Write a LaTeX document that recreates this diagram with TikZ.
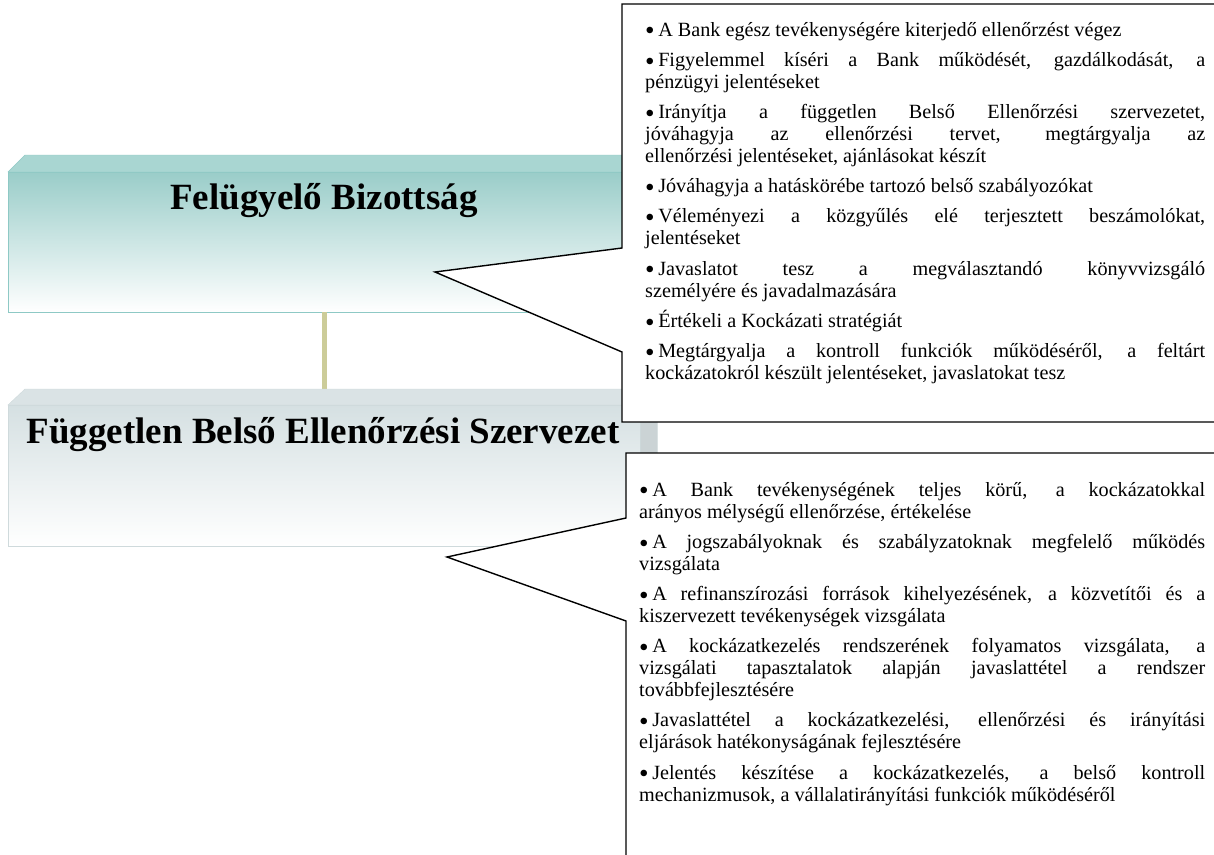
\documentclass[tikz,border=0pt]{standalone}
\usepackage{fontspec}
\setmainfont{Liberation Serif}
\usetikzlibrary{calc}
\definecolor{fbtop}{HTML}{9ACDC9}
\definecolor{fbmid}{HTML}{DDF0EE}
\definecolor{fbbevel}{HTML}{A9D6D2}
\definecolor{fbborder}{HTML}{8EC9C5}
\definecolor{fetop}{HTML}{D5E0E2}
\definecolor{femid}{HTML}{EEF3F4}
\definecolor{febevel}{HTML}{DAE3E5}
\definecolor{feborder}{HTML}{CFDADC}
\definecolor{feside}{HTML}{CBD3D5}
\definecolor{conncol}{HTML}{CCCC99}
\newcommand{\jline}[1]{\makebox[\linewidth][s]{#1}\par}
\newcommand{\nline}[1]{\mbox{#1}\par}
\newcommand{\bul}{\raisebox{-3.8pt}{\scalebox{1.35}{\textbullet}}\hspace{3.5pt}}
\newcommand{\itemgap}{\vspace{8.2pt}}
\tikzset{
  facebox/.style={inner sep=0, minimum width=632pt, minimum height=140pt, anchor=north west},
  titletext/.style={inner sep=0, anchor=base, font=\fontsize{37}{40}\selectfont\bfseries},
  callout/.style={draw=black, fill=white, line width=1.4pt, line join=miter},
  bodytext/.style={inner sep=0, anchor=base west, font=\fontsize{20.2}{22}\selectfont},
  conn/.style={draw=conncol, line width=5pt}
}
\begin{document}
\begin{tikzpicture}[x=1pt,y=-1pt]
\useasboundingbox (0,0) rectangle (1214,854);
\fill[white] (0,0) rectangle (1214,854);
\clip (0,0) rectangle (1214,854);
% front faces
\node[facebox, draw=fbborder, top color=fbtop, middle color=fbmid, bottom color=white] (fbbox) at (8,172) {};
\node[facebox, minimum height=141pt, draw=feborder, top color=fetop, middle color=femid, bottom color=white] (febox) at (8,405) {};
% connector
\draw[conn] (fbbox.south) -- (febox.north);
% top and side faces
\filldraw[fill=fbbevel, draw=fbborder] (fbbox.north west) -- ++(17,-17) -- ++(632,0) -- (fbbox.north east) -- cycle;
\filldraw[fill=fbbevel, draw=fbborder] (fbbox.north east) -- ++(17,-17) -- ++(0,140) -- (fbbox.south east) -- cycle;
\filldraw[fill=febevel, draw=feborder] (febox.north west) -- ++(17,-16) -- ++(632,0) -- (febox.north east) -- cycle;
\filldraw[fill=feside, draw=feborder] (febox.north east) -- ++(17,-16) -- ++(0,141) -- (febox.south east) -- cycle;
% titles
\node[titletext] (fbtitle) at (324,209) {Felügyelő Bizottság};
\node[titletext] (fetitle) at (323,443) {Független Belső Ellenőrzési Szervezet};
% callouts
\coordinate (tipa) at (435,272);
\coordinate (tipb) at (447,557);
\draw[callout] (622,4) -- (1222,4) -- (1222,422) -- (622,422) -- (622,352) -- (tipa) -- (622,248) -- cycle;
\draw[callout] (626,453) -- (1222,453) -- (1222,870) -- (626,870) -- (626,621) -- (tipb) -- (626,518) -- cycle;
% callout texts
\node[bodytext] (fbtext) at (645,36) {\parbox[t]{560pt}{%
\nline{\bul A Bank egész tevékenységére kiterjedő ellenőrzést végez}\itemgap
\jline{\bul Figyelemmel kíséri a Bank működését, gazdálkodását, a}
\nline{pénzügyi jelentéseket}\itemgap
\jline{\bul Irányítja a független Belső Ellenőrzési szervezetet,}
\jline{jóváhagyja az ellenőrzési tervet, megtárgyalja az}
\nline{ellenőrzési jelentéseket, ajánlásokat készít}\itemgap
\nline{\bul Jóváhagyja a hatáskörébe tartozó belső szabályozókat}\itemgap
\jline{\bul Véleményezi a közgyűlés elé terjesztett beszámolókat,}
\nline{jelentéseket}\itemgap
\jline{\bul Javaslatot tesz a megválasztandó könyvvizsgáló}
\nline{személyére és javadalmazására}\itemgap
\nline{\bul Értékeli a Kockázati stratégiát}\itemgap
\jline{\bul Megtárgyalja a kontroll funkciók működéséről, a feltárt}
\nline{kockázatokról készült jelentéseket, javaslatokat tesz}}};
\node[bodytext] (fetext) at (639,496) {\parbox[t]{566pt}{%
\jline{\bul A Bank tevékenységének teljes körű, a kockázatokkal}
\nline{arányos mélységű ellenőrzése, értékelése}\itemgap
\jline{\bul A jogszabályoknak és szabályzatoknak megfelelő működés}
\nline{vizsgálata}\itemgap
\jline{\bul A refinanszírozási források kihelyezésének, a közvetítői és a}
\nline{kiszervezett tevékenységek vizsgálata}\itemgap
\jline{\bul A kockázatkezelés rendszerének folyamatos vizsgálata, a}
\jline{vizsgálati tapasztalatok alapján javaslattétel a rendszer}
\nline{továbbfejlesztésére}\itemgap
\jline{\bul Javaslattétel a kockázatkezelési, ellenőrzési és irányítási}
\nline{eljárások hatékonyságának fejlesztésére}\itemgap
\jline{\bul Jelentés készítése a kockázatkezelés, a belső kontroll}
\nline{mechanizmusok, a vállalatirányítási funkciók működéséről}}};
\end{tikzpicture}
\end{document}
